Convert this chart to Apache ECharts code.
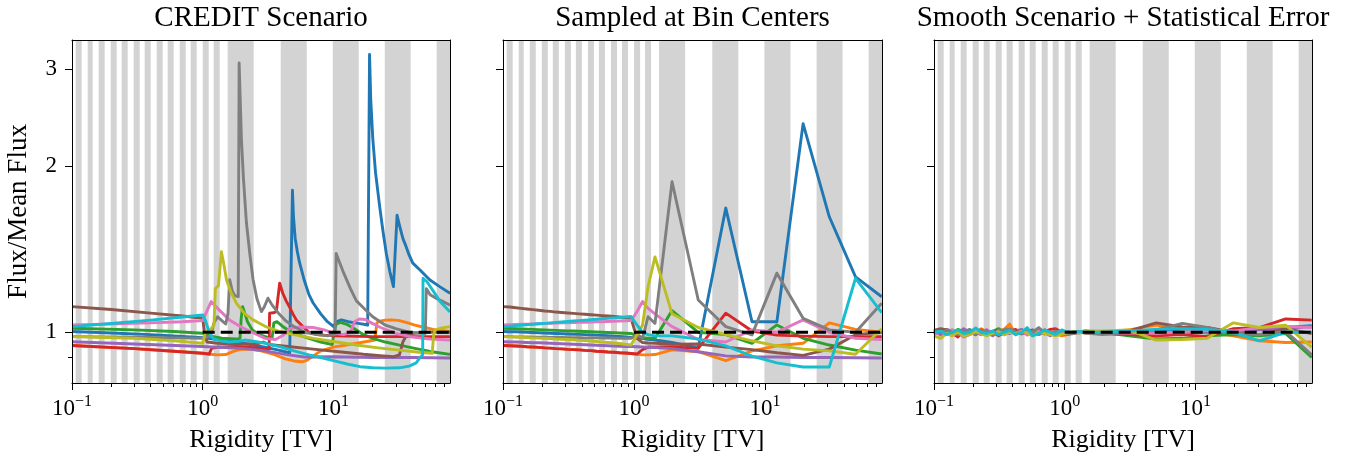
<!DOCTYPE html>
<html>
<head>
<meta charset="utf-8">
<script src="https://cdn.jsdelivr.net/npm/echarts@6/dist/echarts.min.js"></script>
<style>
html,body{margin:0;padding:0;background:#ffffff;}
#chart{width:1361px;height:460px;}
</style>
</head>
<body>
<div id="chart"></div>
<script>
// ---------------- data ----------------
const PANEL_TITLES = ['CREDIT Scenario', 'Sampled at Bin Centers', 'Smooth Scenario + Statistical Error'];
const X_NAME = 'Rigidity [TV]';
const Y_NAME = 'Flux/Mean Flux';
const X_RANGE = [0.1, 78];
const Y_RANGE = [0.809, 3.39];
const X_MAJOR_TICKS = [0.1, 1, 10];
const X_MAJOR_EXPONENTS = ['\u22121', '0', '1'];
const X_MINOR_TICKS = [0.2, 0.3, 0.4, 0.5, 0.6, 0.7, 0.8, 0.9, 2, 3, 4, 5, 6, 7, 8, 9, 20, 30, 40, 50, 60, 70];
const Y_MAJOR_TICKS = [1, 2, 3];
const Y_MINOR_TICKS = [0.9];
const REFERENCE_LINE = [[1, 1], [78, 1]];

// shaded bins [start, end] in TV
const SHADED_BINS = [
  [0.1067, 0.1186], [0.1318, 0.1439], [0.1600, 0.1778], [0.1977, 0.2198], [0.2399, 0.2667],
  [0.2965, 0.3296], [0.3597, 0.3999], [0.4446, 0.4943], [0.5395, 0.5998], [0.6668, 0.7413],
  [0.8091, 0.8995], [1.0, 1.112], [1.213, 1.349], [1.552, 2.455], [3.954, 6.252],
  [9.886, 15.63], [24.72, 39.0], [61.66, 78]
];

const BIN_CENTERS = [0.1, 0.1125, 0.125, 0.1377, 0.1521, 0.1687, 0.1875, 0.2084, 0.2296, 0.2529,
  0.2812, 0.3126, 0.3443, 0.3793, 0.4217, 0.4688, 0.5164, 0.5689, 0.6324, 0.7031,
  0.7745, 0.8531, 0.9484, 1.054, 1.161, 1.279, 1.445, 1.950, 3.090, 5.012,
  7.943, 12.30, 19.50, 30.90, 48.98, 77.62];

const COLORS = ['#1f77b4', '#ff7f0e', '#2ca02c', '#d62728', '#9467bd', '#8c564b', '#e377c2', '#7f7f7f', '#bcbd22', '#17becf'];

// Panel 1: CREDIT scenario curves [rigidity, ratio]
const credit_blue = [[0.1,1.003],[0.2,0.997],[0.4,0.99],[0.7,0.983],[1.0,0.978],[1.5,0.965],[2.2,0.952],[3.0,0.94],[3.8,0.928],[4.4,0.92],[4.63,0.918],[4.86,1.81],[4.95,1.62],[5.1,1.48],[5.3,1.4],[5.5,1.34],[6.0,1.24],[6.5,1.17],[7.0,1.13],[8.0,1.08],[9.0,1.045],[10.0,1.025],[10.6,1.045],[11.5,1.053],[13.0,1.045],[15.5,1.038],[17.5,1.033],[18.3,1.03],[18.9,3.19],[19.3,2.65],[20.0,2.25],[21.0,1.95],[22.6,1.69],[24.0,1.52],[25.4,1.39],[27.0,1.29],[28.8,1.21],[29.3,1.21],[30.7,1.63],[32.2,1.555],[34,1.48],[36,1.43],[38,1.38],[40.5,1.335],[46,1.297],[54.5,1.245],[65,1.21],[78,1.177]];
const credit_orange = [[0.1,0.946],[0.3,0.934],[0.6,0.924],[1.0,0.916],[1.13,0.912],[1.3,0.91],[1.5,0.911],[1.7,0.922],[1.9,0.93],[2.3,0.932],[2.8,0.925],[3.5,0.912],[4.3,0.895],[5.0,0.887],[5.8,0.884],[6.3,0.89],[8,0.925],[10,0.94],[14,0.952],[18,0.962],[20.8,0.968],[21.5,1.04],[22.5,1.047],[25,1.052],[28,1.053],[32,1.05],[36,1.042],[42,1.03],[50,1.02],[60,1.01],[78,1.003]];
const credit_green = [[0.1,1.017],[0.3,1.01],[0.6,1.003],[1.0,0.996],[1.13,0.985],[1.4,0.976],[1.8,0.972],[1.93,0.975],[1.97,1.06],[2.02,1.113],[2.08,1.09],[2.2,1.045],[2.4,1.01],[2.7,0.99],[3.1,0.98],[3.4,0.978],[3.5,1.04],[3.7,1.045],[4.2,1.02],[5,0.995],[6.5,0.975],[8,0.96],[9.8,0.95],[10.1,1.0],[10.5,1.035],[11.3,1.042],[12.5,1.035],[14,1.02],[17,0.99],[20,0.975],[25,0.96],[32,0.948],[42,0.935],[55,0.923],[78,0.912]];
const credit_red = [[0.1,0.946],[0.3,0.934],[0.6,0.924],[1.0,0.916],[1.12,0.913],[1.17,0.935],[1.3,0.94],[1.8,0.94],[2.5,0.938],[3.0,0.933],[3.22,0.932],[3.25,1.083],[3.5,1.085],[3.66,1.09],[3.88,1.227],[4.1,1.177],[4.35,1.14],[4.6,1.113],[4.9,1.08],[5.2,1.053],[5.84,1.024],[6.5,1.0],[7.5,0.99],[10,0.985],[20,0.982],[78,0.982]];
const credit_purple = [[0.1,0.961],[0.3,0.952],[1.0,0.942],[2.0,0.935],[3.0,0.925],[4.5,0.91],[6.0,0.902],[10,0.903],[20,0.9],[40,0.9],[78,0.898]];
const credit_brown = [[0.1,1.113],[0.2,1.1],[0.4,1.083],[0.7,1.07],[1.0,1.06],[1.03,1.0],[1.08,0.96],[1.3,0.955],[1.8,0.95],[2.6,0.953],[2.9,0.96],[3.2,0.95],[4.5,0.942],[7,0.932],[11,0.922],[17,0.912],[24,0.906],[29,0.903],[32,0.91],[34,0.96],[36,0.985],[40,0.995],[50,1.0],[78,1.0]];
const credit_pink = [[0.1,1.031],[0.3,1.038],[0.7,1.045],[1.0,1.05],[1.06,1.083],[1.16,1.137],[1.3,1.105],[1.6,1.053],[2.0,1.02],[2.5,0.995],[3.0,0.975],[3.6,0.97],[4.2,0.99],[4.6,1.015],[5.5,1.022],[7,1.02],[8.5,1.01],[10,0.996],[12,0.99],[13.5,1.0],[14.5,1.045],[15.8,1.057],[17.5,1.055],[19.5,1.04],[23,1.02],[30,0.995],[40,0.98],[55,0.972],[78,0.968]];
const credit_gray = [[0.1,0.982],[0.3,0.98],[0.6,0.977],[1.0,0.975],[1.15,0.985],[1.22,1.04],[1.3,1.067],[1.4,1.05],[1.5,1.035],[1.56,1.08],[1.61,1.245],[1.68,1.19],[1.76,1.165],[1.87,1.16],[1.9,3.08],[1.95,2.5],[1.98,2.23],[2.05,1.9],[2.16,1.58],[2.3,1.38],[2.43,1.245],[2.6,1.15],[2.81,1.09],[2.95,1.11],[3.16,1.153],[3.4,1.12],[3.8,1.083],[4.3,1.05],[5,1.024],[6,1.0],[7.5,0.99],[9,0.985],[10.3,0.99],[10.5,1.39],[11,1.35],[12,1.28],[13.5,1.2],[15,1.14],[17.5,1.1],[20,1.067],[25,1.03],[30,1.015],[38,1.0],[50.5,0.995],[51.4,1.2],[55,1.17],[62,1.15],[70,1.135],[78,1.12]];
const credit_olive = [[0.1,0.982],[0.3,0.975],[0.6,0.965],[1.0,0.955],[1.03,0.956],[1.05,1.0],[1.15,1.012],[1.22,1.03],[1.25,1.2],[1.32,1.215],[1.39,1.40],[1.45,1.33],[1.52,1.245],[1.65,1.18],[1.81,1.129],[2.1,1.08],[2.43,1.053],[3.0,1.025],[3.8,1.005],[5,0.99],[7,0.975],[10,0.962],[15,0.948],[22,0.937],[32,0.928],[45,0.92],[57,0.916],[58.5,0.99],[60,1.01],[68,1.018],[78,1.024]];
const credit_cyan = [[0.1,1.024],[0.2,1.037],[0.4,1.052],[0.7,1.066],[1.0,1.075],[1.05,1.05],[1.12,1.0],[1.2,0.975],[1.35,0.965],[1.6,0.96],[1.9,0.963],[2.1,0.968],[2.5,0.962],[3.0,0.955],[4,0.94],[5,0.925],[6.5,0.91],[8,0.9],[10,0.888],[13,0.875],[16,0.866],[20,0.862],[25,0.861],[32,0.862],[38,0.868],[43,0.88],[46,0.9],[48.2,0.91],[48.5,1.253],[52,1.235],[57.8,1.19],[65,1.14],[78,1.088]];

// Panel 2: sampled at BIN_CENTERS
const sampled_blue = [1.003,1.002,1.002,1.001,1.0,0.999,0.998,0.997,0.996,0.995,0.994,0.993,0.992,0.991,0.99,0.989,0.988,0.987,0.986,0.984,0.983,0.981,0.979,0.977,0.974,0.971,0.968,0.958,0.937,1.68,1.045,1.045,2.39,1.62,1.26,1.16];
const sampled_orange = [0.946,0.945,0.944,0.943,0.941,0.94,0.939,0.937,0.936,0.934,0.933,0.931,0.93,0.929,0.927,0.926,0.924,0.923,0.921,0.92,0.918,0.917,0.915,0.912,0.91,0.91,0.911,0.929,0.922,0.888,0.925,0.945,0.955,1.04,1.012,1.0];
const sampled_green = [1.017,1.016,1.015,1.014,1.013,1.012,1.011,1.01,1.009,1.008,1.007,1.006,1.005,1.004,1.003,1.002,1.001,1.0,0.999,0.998,0.997,0.996,0.995,0.986,0.978,0.975,0.974,1.095,1.0,0.99,0.955,1.031,0.975,0.948,0.928,0.913];
const sampled_red = [0.946,0.945,0.944,0.943,0.941,0.94,0.939,0.937,0.936,0.934,0.933,0.931,0.93,0.929,0.927,0.926,0.924,0.923,0.921,0.92,0.918,0.917,0.915,0.913,0.93,0.94,0.94,0.94,0.935,1.083,1.005,0.988,0.984,0.982,0.982,0.982];
const sampled_purple = [0.961,0.96,0.96,0.959,0.958,0.957,0.957,0.956,0.955,0.954,0.953,0.952,0.951,0.95,0.949,0.948,0.947,0.946,0.945,0.944,0.943,0.942,0.942,0.941,0.94,0.939,0.938,0.934,0.922,0.906,0.902,0.902,0.9,0.9,0.899,0.898];
const sampled_brown = [1.113,1.111,1.108,1.105,1.102,1.099,1.096,1.093,1.091,1.088,1.086,1.084,1.082,1.08,1.078,1.076,1.074,1.072,1.07,1.068,1.066,1.063,1.06,0.975,0.958,0.956,0.955,0.951,0.952,0.94,0.93,0.918,0.908,0.932,0.99,1.0];
const sampled_pink = [1.031,1.032,1.033,1.034,1.034,1.035,1.036,1.037,1.038,1.039,1.04,1.04,1.041,1.042,1.043,1.044,1.045,1.045,1.046,1.047,1.048,1.049,1.05,1.09,1.137,1.105,1.08,1.024,0.97,0.96,1.01,1.0,1.053,1.0,0.975,0.97];
const sampled_gray = [0.982,0.982,0.981,0.981,0.981,0.98,0.98,0.98,0.979,0.979,0.979,0.978,0.978,0.978,0.977,0.977,0.977,0.976,0.976,0.976,0.975,0.975,0.975,0.99,0.975,1.067,1.038,1.875,1.144,1.024,0.989,1.28,1.06,1.01,1.0,1.129];
const sampled_olive = [0.982,0.981,0.98,0.979,0.978,0.977,0.976,0.975,0.974,0.972,0.971,0.97,0.969,0.967,0.966,0.964,0.962,0.96,0.958,0.956,0.954,0.951,0.948,0.99,1.03,1.21,1.37,1.08,1.02,0.99,0.965,0.945,0.932,0.925,0.912,1.015];
const sampled_cyan = [1.024,1.026,1.028,1.03,1.032,1.034,1.036,1.038,1.04,1.042,1.044,1.046,1.048,1.05,1.052,1.054,1.056,1.058,1.06,1.062,1.064,1.066,1.068,1.03,1.0,0.99,0.985,0.985,0.972,0.945,0.905,0.88,0.865,0.865,1.253,1.085];

// Panel 3: smooth scenario + statistical error, at BIN_CENTERS
const smooth_blue = [1.0,1.012,0.995,1.008,1.0,0.988,1.01,1.002,0.993,1.006,1.0,1.012,0.99,1.0,1.008,0.994,1.002,1.01,0.998,0.993,1.006,1.0,1.003,0.998,0.995,1.002,1.005,0.998,0.995,1.01,1.005,1.008,0.992,1.012,1.02,1.028];
const smooth_orange = [1.012,0.995,1.0,1.01,0.99,1.006,1.0,0.995,1.015,1.003,0.996,1.008,1.012,1.035,0.99,1.01,0.997,1.005,0.992,1.0,1.01,0.996,0.985,0.99,1.0,1.003,0.997,1.0,1.01,1.03,1.012,1.0,0.985,0.965,0.958,0.96];
const smooth_green = [0.995,1.008,1.0,0.99,1.012,1.003,0.996,1.01,1.0,0.993,1.004,1.015,0.998,1.006,0.992,1.002,1.01,0.995,1.012,1.0,0.99,1.005,1.0,0.997,1.002,0.998,1.003,1.0,0.985,0.972,0.975,0.985,0.99,0.985,0.995,0.9];
const smooth_red = [1.005,0.992,1.01,0.998,0.98,1.006,1.002,0.99,1.01,0.995,1.0,1.008,0.994,1.003,1.012,0.997,1.0,0.992,1.006,1.0,1.012,1.015,1.0,0.995,1.0,1.002,0.998,0.995,0.99,0.985,0.99,0.982,1.015,1.02,1.057,1.052];
const smooth_purple = [1.0,0.99,1.012,1.005,0.995,1.015,1.0,0.99,1.008,1.0,0.985,1.01,1.0,0.995,1.006,1.012,0.998,1.003,0.99,1.0,0.985,1.005,1.0,1.002,0.998,1.0,1.004,1.0,1.002,1.0,0.998,1.0,1.005,1.01,1.015,1.025];
const smooth_brown = [1.008,1.015,1.01,0.995,1.0,0.992,1.005,1.0,0.99,1.006,1.0,0.985,1.0,1.01,1.008,0.995,1.012,1.002,0.997,1.01,1.0,0.994,1.002,1.0,0.995,1.003,1.0,1.0,1.005,1.04,1.022,1.02,1.0,0.99,1.015,0.995];
const smooth_pink = [0.99,1.0,0.995,1.01,1.0,0.98,0.99,1.005,0.99,1.012,0.995,1.0,0.99,1.008,0.996,1.005,0.988,1.0,1.01,0.995,1.0,1.003,0.998,0.997,0.995,0.998,1.0,0.995,0.998,0.997,1.0,1.008,1.005,1.02,1.025,1.02];
const smooth_gray = [1.005,0.998,1.01,1.0,0.99,1.002,1.012,0.994,1.0,1.008,0.99,1.004,1.01,1.015,1.0,0.993,1.006,1.0,1.02,0.998,0.99,1.005,0.994,0.99,0.995,1.0,0.997,0.99,1.0,1.01,1.038,1.02,0.995,0.99,1.005,0.91];
const smooth_olive = [0.985,0.975,0.995,0.985,1.0,0.985,0.99,1.002,0.995,0.985,0.996,1.002,0.99,1.0,0.994,1.003,0.998,0.985,1.0,0.995,0.99,0.985,0.992,0.998,1.003,0.997,1.005,1.005,1.01,0.968,0.97,0.975,1.04,1.02,1.03,0.94];
const smooth_cyan = [1.0,1.005,0.99,1.0,1.01,0.995,1.0,1.018,1.0,0.995,1.005,0.99,1.0,1.008,0.99,1.0,1.02,0.985,0.995,1.01,1.0,0.99,1.01,1.0,1.0,1.003,1.0,1.0,1.005,1.012,1.015,1.012,1.0,0.965,1.0,1.0];

const CREDIT = [credit_blue, credit_orange, credit_green, credit_red, credit_purple, credit_brown, credit_pink, credit_gray, credit_olive, credit_cyan];
const SAMPLED = [sampled_blue, sampled_orange, sampled_green, sampled_red, sampled_purple, sampled_brown, sampled_pink, sampled_gray, sampled_olive, sampled_cyan];
const SMOOTH = [smooth_blue, smooth_orange, smooth_green, smooth_red, smooth_purple, smooth_brown, smooth_pink, smooth_gray, smooth_olive, smooth_cyan];

// ---------------- layout / style ----------------
const FONT = 'Liberation Serif';
const PANELS = [
  {left: 72, top: 40, width: 378, height: 343},
  {left: 503, top: 40, width: 379, height: 343},
  {left: 934, top: 40, width: 378, height: 343}
];

function pairUp(values) { return BIN_CENTERS.map((x, i) => [x, values[i]]); }
const PANEL_DATA = [CREDIT, SAMPLED.map(pairUp), SMOOTH.map(pairUp)];

function xMajorLabel(v) {
  const i = X_MAJOR_TICKS.findIndex(t => Math.abs(Math.log10(t / v)) < 1e-6);
  return i < 0 ? '' : '{b|10}{s|' + X_MAJOR_EXPONENTS[i] + '}';
}

const grids = [], xAxes = [], yAxes = [], series = [], titles = [];
const black = '#000000';

PANELS.forEach((g, p) => {
  grids.push({left: g.left, top: g.top, width: g.width, height: g.height, containLabel: false, outerBoundsMode: 'none', show: false});
  titles.push({
    text: PANEL_TITLES[p], left: g.left + g.width / 2, top: 4, textAlign: 'center', padding: 0,
    textStyle: {fontFamily: FONT, fontSize: 29, fontWeight: 'normal', color: black}
  });
  const xBase = {gridIndex: p, type: 'log', logBase: 10, min: X_RANGE[0], max: X_RANGE[1], splitLine: {show: false}, minorTick: {show: false}, minorSplitLine: {show: false}, z: 10};
  const yBase = {gridIndex: p, type: 'log', logBase: 10, min: Y_RANGE[0], max: Y_RANGE[1], splitLine: {show: false}, minorTick: {show: false}, minorSplitLine: {show: false}, z: 10};
  // main x
  xAxes.push(Object.assign({}, xBase, {
    position: 'bottom',
    axisLine: {show: true, onZero: false, lineStyle: {color: black, width: 1}},
    axisTick: {show: true, length: 7, customValues: X_MAJOR_TICKS, lineStyle: {color: black, width: 1}},
    axisLabel: {show: true, customValues: X_MAJOR_TICKS, margin: 11, formatter: xMajorLabel, color: black,
      rich: {
        b: {fontFamily: FONT, fontSize: 23, lineHeight: 26, verticalAlign: 'bottom', color: black},
        s: {fontFamily: FONT, fontSize: 16, lineHeight: 16, verticalAlign: 'top', color: black}
      }},
    name: X_NAME, nameLocation: 'middle', nameGap: 44,
    nameTextStyle: {fontFamily: FONT, fontSize: 26, color: black}
  }));
  // minor x ticks
  xAxes.push(Object.assign({}, xBase, {
    position: 'bottom',
    axisLine: {show: false, onZero: false},
    axisTick: {show: true, length: 4, customValues: X_MINOR_TICKS, lineStyle: {color: black, width: 1}},
    axisLabel: {show: false}
  }));
  // top frame
  xAxes.push(Object.assign({}, xBase, {
    position: 'top',
    axisLine: {show: true, onZero: false, lineStyle: {color: black, width: 1}},
    axisTick: {show: false}, axisLabel: {show: false}
  }));
  // main y
  yAxes.push(Object.assign({}, yBase, {
    position: 'left',
    axisLine: {show: true, onZero: false, lineStyle: {color: black, width: 1}},
    axisTick: {show: true, length: 7, customValues: Y_MAJOR_TICKS, lineStyle: {color: black, width: 1}},
    axisLabel: {show: p === 0, customValues: Y_MAJOR_TICKS, margin: 15, color: black, fontFamily: FONT, fontSize: 23,
      formatter: v => String(Math.round(v))},
    name: p === 0 ? Y_NAME : '', nameLocation: 'middle', nameGap: 40,
    nameTextStyle: {fontFamily: FONT, fontSize: 27, color: black}
  }));
  // minor y ticks
  yAxes.push(Object.assign({}, yBase, {
    position: 'left',
    axisLine: {show: false, onZero: false},
    axisTick: {show: true, length: 4, customValues: Y_MINOR_TICKS, lineStyle: {color: black, width: 1}},
    axisLabel: {show: false}
  }));
  // right frame
  yAxes.push(Object.assign({}, yBase, {
    position: 'right',
    axisLine: {show: true, onZero: false, lineStyle: {color: black, width: 1}},
    axisTick: {show: false}, axisLabel: {show: false}
  }));

  const xi = p * 3, yi = p * 3;
  // shaded bins
  series.push({
    type: 'line', xAxisIndex: xi, yAxisIndex: yi, data: [[1, 1]], showSymbol: false, symbol: 'none',
    lineStyle: {width: 0, opacity: 0}, z: 1, silent: true,
    markArea: {silent: true, itemStyle: {color: '#d3d3d3', borderWidth: 0},
      data: SHADED_BINS.map(b => [{xAxis: b[0]}, {xAxis: b[1]}])}
  });
  PANEL_DATA[p].forEach((d, i) => {
    series.push({
      type: 'line', xAxisIndex: xi, yAxisIndex: yi, data: d, showSymbol: false, symbol: 'none',
      lineStyle: {color: COLORS[i], width: 2.9, cap: 'butt', join: 'round'}, itemStyle: {color: COLORS[i]},
      z: 3, silent: true, clip: true
    });
  });
  series.push({
    type: 'line', xAxisIndex: xi, yAxisIndex: yi, data: REFERENCE_LINE, showSymbol: false, symbol: 'none',
    lineStyle: {color: black, width: 3, type: [12, 6]}, z: 4, silent: true, clip: true
  });
});

const chart = echarts.init(document.getElementById('chart'), null, {renderer: 'canvas'});
chart.setOption({
  animation: false,
  backgroundColor: '#ffffff',
  title: titles,
  grid: grids,
  xAxis: xAxes,
  yAxis: yAxes,
  series: series
});
</script>
</body>
</html>
